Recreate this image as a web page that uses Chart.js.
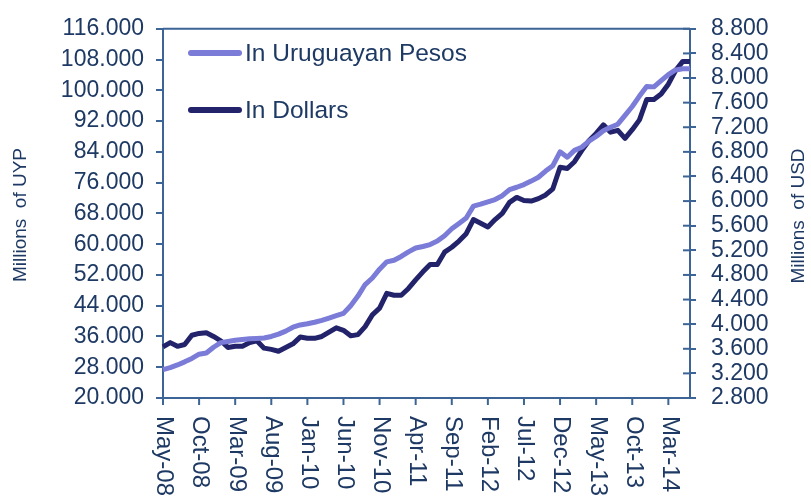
<!DOCTYPE html>
<html>
<head>
<meta charset="utf-8">
<script src="https://cdn.jsdelivr.net/npm/chart.js@4.4.1/dist/chart.umd.min.js"></script>
<style>
    html, body { margin: 0; padding: 0; background: #ffffff; }
    #wrap { width: 811px; height: 502px; }
</style>
</head>
<body>
<div id="wrap"><canvas id="chart" width="811" height="502"></canvas></div>
<script>
// monthly categories, May-08 .. Jun-14
const months = [
    'May-08','Jun-08','Jul-08','Aug-08','Sep-08','Oct-08','Nov-08','Dec-08',
    'Jan-09','Feb-09','Mar-09','Apr-09','May-09','Jun-09','Jul-09','Aug-09','Sep-09','Oct-09','Nov-09','Dec-09',
    'Jan-10','Feb-10','Mar-10','Apr-10','May-10','Jun-10','Jul-10','Aug-10','Sep-10','Oct-10','Nov-10','Dec-10',
    'Jan-11','Feb-11','Mar-11','Apr-11','May-11','Jun-11','Jul-11','Aug-11','Sep-11','Oct-11','Nov-11','Dec-11',
    'Jan-12','Feb-12','Mar-12','Apr-12','May-12','Jun-12','Jul-12','Aug-12','Sep-12','Oct-12','Nov-12','Dec-12',
    'Jan-13','Feb-13','Mar-13','Apr-13','May-13','Jun-13','Jul-13','Aug-13','Sep-13','Oct-13','Nov-13','Dec-13',
    'Jan-14','Feb-14','Mar-14','Apr-14','May-14','Jun-14'
];

// millions of UYP
const pesos = [
    27400, 27900, 28600, 29400, 30300, 31400, 31700, 33200, 34400, 34700,
    35000, 35200, 35400, 35500, 35600, 36000, 36600, 37400, 38400, 39000,
    39300, 39700, 40200, 40800, 41400, 42000, 44000, 46500, 49500, 51200,
    53500, 55400, 55800, 56800, 58000, 59000, 59400, 59900, 60800, 62200,
    64000, 65400, 66800, 69900, 70400, 71000, 71600, 72600, 74200, 74800,
    75500, 76400, 77400, 79000, 80400, 84000, 82600, 84400, 85200, 86800,
    88000, 89500, 90400, 91200, 93500, 95800, 98500, 101000, 100900, 102500,
    104100, 105300, 105600, 105600
];

// millions of USD
const dollars = [
    3630, 3700, 3640, 3670, 3820, 3850, 3860, 3800, 3730, 3620,
    3640, 3640, 3700, 3730, 3610, 3590, 3560, 3620, 3680, 3790,
    3770, 3770, 3800, 3870, 3940, 3900, 3810, 3830, 3960, 4150,
    4260, 4500, 4470, 4470, 4580, 4720, 4850, 4970, 4970, 5170,
    5250, 5350, 5470, 5700, 5640, 5580, 5700, 5800, 5980, 6060,
    6010, 6000, 6040, 6100, 6200, 6550, 6530, 6640, 6820, 6980,
    7100, 7240, 7120, 7150, 7020, 7160, 7320, 7650, 7650, 7740,
    7900, 8120, 8270, 8270
];

const seriesNames = ['In Uruguayan Pesos', 'In Dollars'];
const seriesColors = ['#7b7bd8', '#23236b'];
const axisTitles = ['Millions  of UYP', 'Millions  of USD'];
const labelEvery = 5;

const axisColor = '#3c6496';
const textColor = '#1e3a64';
const fontFamily = '"Liberation Sans", Arial, sans-serif';

function fmt(v) {
    return Number(v).toLocaleString('de-DE');
}

// extra drawing: top frame, crossing ticks on the right, rotated month labels, titles, legend
const decorPlugin = {
    id: 'decor',
    afterDraw(chart) {
        const ctx = chart.ctx;
        const area = chart.chartArea;
        const x = chart.scales.x;
        const yR = chart.scales.yR;

        ctx.save();
        ctx.strokeStyle = axisColor;
        ctx.lineWidth = 2;

        // top frame line
        ctx.beginPath();
        ctx.moveTo(area.left, area.top);
        ctx.lineTo(area.right, area.top);
        ctx.stroke();

        // inner half of right axis ticks
        yR.ticks.forEach(t => {
            const py = yR.getPixelForValue(t.value);
            ctx.beginPath();
            ctx.moveTo(area.right - 7, py);
            ctx.lineTo(area.right, py);
            ctx.stroke();
        });

        // x ticks and rotated labels
        ctx.fillStyle = textColor;
        ctx.font = '24px ' + fontFamily;
        ctx.textAlign = 'left';
        ctx.textBaseline = 'middle';
        months.forEach((m, i) => {
            if (i % labelEvery !== 0) return;
            const px = x.getPixelForValue(i);
            ctx.beginPath();
            ctx.moveTo(px, area.bottom);
            ctx.lineTo(px, area.bottom + 7);
            ctx.stroke();
            ctx.save();
            ctx.translate(px + 1, area.bottom + 18);
            ctx.rotate(Math.PI / 2);
            ctx.fillText(m, 0, 0);
            ctx.restore();
        });

        // axis titles
        ctx.font = '19px ' + fontFamily;
        ctx.textAlign = 'center';
        ctx.save();
        ctx.translate(21, 215);
        ctx.rotate(-Math.PI / 2);
        ctx.fillText(axisTitles[0], 0, 0);
        ctx.restore();
        ctx.save();
        ctx.translate(799, 216);
        ctx.rotate(-Math.PI / 2);
        ctx.fillText(axisTitles[1], 0, 0);
        ctx.restore();

        // legend
        ctx.font = '24.5px ' + fontFamily;
        ctx.textAlign = 'left';
        ctx.lineCap = 'round';
        seriesNames.forEach((name, i) => {
            const ly = 53 + i * 57;
            ctx.strokeStyle = seriesColors[i];
            ctx.lineWidth = 6;
            ctx.beginPath();
            ctx.moveTo(191, ly);
            ctx.lineTo(239, ly);
            ctx.stroke();
            ctx.fillText(name, 245, ly + 1);
        });
        ctx.restore();
    }
};

const ctx = document.getElementById('chart').getContext('2d');
new Chart(ctx, {
    type: 'line',
    data: {
        labels: months,
        datasets: [{
            label: seriesNames[0],
            data: pesos,
            yAxisID: 'yL',
            borderColor: seriesColors[0],
            borderWidth: 5,
            pointRadius: 0,
            tension: 0,
            borderJoinStyle: 'round'
        }, {
            label: seriesNames[1],
            data: dollars,
            yAxisID: 'yR',
            borderColor: seriesColors[1],
            borderWidth: 5,
            pointRadius: 0,
            tension: 0,
            borderJoinStyle: 'round'
        }]
    },
    options: {
        responsive: false,
        animation: false,
        devicePixelRatio: 1,
        layout: { padding: { top: 16, left: 0, right: 0, bottom: 0 } },
        plugins: {
            legend: { display: false },
            tooltip: { enabled: false }
        },
        scales: {
            x: {
                type: 'category',
                offset: false,
                grid: { display: false },
                border: { color: axisColor, width: 2 },
                ticks: { display: false },
                afterFit(scale) { scale.height = 104; }
            },
            yL: {
                position: 'left',
                min: 20000,
                max: 116000,
                ticks: {
                    stepSize: 8000,
                    autoSkip: false,
                    padding: 12,
                    color: textColor,
                    font: { family: fontFamily, size: 23 },
                    callback: v => fmt(v)
                },
                grid: { drawOnChartArea: false, tickLength: 7, color: axisColor, lineWidth: 2 },
                border: { color: axisColor, width: 2 },
                afterFit(scale) { scale.width = 163; }
            },
            yR: {
                position: 'right',
                min: 2800,
                max: 8800,
                ticks: {
                    stepSize: 400,
                    autoSkip: false,
                    padding: 15,
                    color: textColor,
                    font: { family: fontFamily, size: 23 },
                    callback: v => fmt(v)
                },
                grid: { drawOnChartArea: false, tickLength: 6, color: axisColor, lineWidth: 2 },
                border: { color: axisColor, width: 2 },
                afterFit(scale) { scale.width = 121; }
            }
        }
    },
    plugins: [decorPlugin]
});
</script>
</body>
</html>
